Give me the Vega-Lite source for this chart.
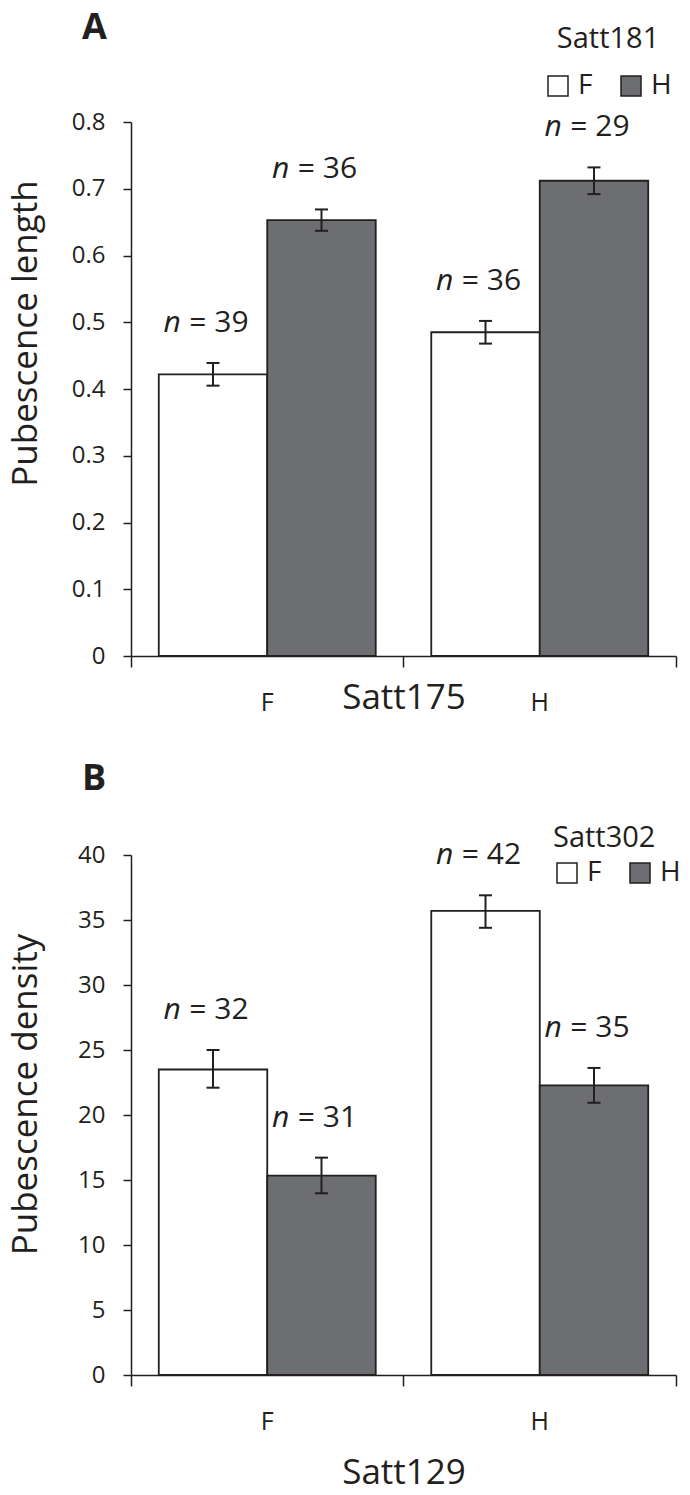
{
  "$schema": "https://vega.github.io/schema/vega-lite/v6.json",
  "autosize": {"type": "none"},
  "padding": {"left": 131, "top": 122, "right": 559, "bottom": 1373},
  "background": "white",
  "bounds": "flush",
  "spacing": 199,
  "resolve": {"scale": {"fill": "independent"}, "legend": {"fill": "independent"}},
  "config": {
    "font": "Open Sans",
    "view": {"stroke": null},
    "axis": {
      "domainColor": "#231f20", "domainWidth": 1.5,
      "tickColor": "#231f20", "tickWidth": 1.5,
      "labelColor": "#231f20", "titleColor": "#231f20",
      "labelFont": "Open Sans", "titleFont": "Open Sans",
      "grid": false, "titleFontWeight": "normal"
    },
    "legend": {
      "labelFont": "Open Sans", "titleFont": "Open Sans",
      "labelColor": "#231f20", "titleColor": "#231f20"
    }
  },
  "datasets": {
    "lengthData": [
      {"g": "F", "s": "F", "mean": 0.422, "lo": 0.405, "hi": 0.439, "label": "= 39"},
      {"g": "F", "s": "H", "mean": 0.653, "lo": 0.637, "hi": 0.669, "label": "= 36"},
      {"g": "H", "s": "F", "mean": 0.485, "lo": 0.468, "hi": 0.502, "label": "= 36"},
      {"g": "H", "s": "H", "mean": 0.712, "lo": 0.692, "hi": 0.732, "label": "= 29"}
    ],
    "densityData": [
      {"g": "F", "s": "F", "mean": 23.5, "lo": 22.1, "hi": 25.0, "label": "= 32"},
      {"g": "F", "s": "H", "mean": 15.33, "lo": 13.98, "hi": 16.72, "label": "= 31"},
      {"g": "H", "s": "F", "mean": 35.7, "lo": 34.4, "hi": 36.9, "label": "= 42"},
      {"g": "H", "s": "H", "mean": 22.28, "lo": 20.94, "hi": 23.62, "label": "= 35"}
    ]
  },
  "vconcat": [
    {
      "title": {"text": "A", "anchor": "start", "frame": "group", "dx": -49, "dy": 50, "offset": 0, "fontSize": 36, "fontWeight": "bold", "color": "#231f20", "baseline": "alphabetic", "font": "Open Sans"},
      "width": 545,
      "height": 534,
      "data": {"name": "lengthData"},
      "encoding": {
        "x": {
          "field": "g", "type": "nominal",
          "scale": {"domain": ["F", "H"], "paddingInner": 0, "paddingOuter": 0},
          "axis": {
            "title": "Satt175", "labelAngle": 0, "labelFontSize": 25, "labelBaseline": "middle",
            "labelPadding": 35, "tickSize": 11, "bandPosition": 1, "tickExtra": true,
            "titleFontSize": 35, "titleY": 41, "titleBaseline": "middle"
          }
        },
        "xOffset": {"field": "s", "type": "nominal", "scale": {"domain": ["F", "H"], "paddingInner": 0, "paddingOuter": 0.256}}
      },
      "layer": [
        {
          "mark": {"type": "bar", "stroke": "#231f20", "strokeWidth": 1.8},
          "encoding": {
            "y": {
              "field": "mean", "type": "quantitative",
              "scale": {"domain": [0, 0.8], "nice": false},
              "axis": {
                "title": "Pubescence length",
                "values": [0, 0.1, 0.2, 0.3, 0.4, 0.5, 0.6, 0.7, 0.8], "format": "~g",
                "tickSize": 8, "labelPadding": 18, "labelFontSize": 24, "labelBaseline": "middle",
                "titleFontSize": 35, "titleX": -95, "titleY": 211, "titleAngle": -90,
                "titleBaseline": "alphabetic", "titleAlign": "center"
              }
            },
            "fill": {
              "field": "s", "type": "nominal",
              "scale": {"domain": ["F", "H"], "range": ["#ffffff", "#6d6e71"]},
              "legend": {
                "title": "Satt181", "orient": "none", "legendX": 413, "legendY": -97,
                "direction": "horizontal", "symbolType": "square", "symbolSize": 400,
                "symbolStrokeColor": "#231f20", "symbolStrokeWidth": 1.5, "symbolOpacity": 1,
                "labelFontSize": 28, "titleFontSize": 29, "titleFontWeight": "normal",
                "titleAnchor": "middle", "titlePadding": 18, "labelOffset": 6, "columnPadding": 24,
                "padding": 0, "titleBaseline": "top", "labelBaseline": "middle"
              }
            }
          }
        },
        {
          "mark": {"type": "rule", "color": "#231f20", "strokeWidth": 2},
          "encoding": {
            "y": {"field": "lo", "type": "quantitative"},
            "y2": {"field": "hi"}
          }
        },
        {
          "mark": {"type": "tick", "orient": "horizontal", "size": 13, "thickness": 2, "color": "#231f20", "opacity": 1},
          "encoding": {"y": {"field": "hi", "type": "quantitative"}}
        },
        {
          "mark": {"type": "tick", "orient": "horizontal", "size": 13, "thickness": 2, "color": "#231f20", "opacity": 1},
          "encoding": {"y": {"field": "lo", "type": "quantitative"}}
        },
        {
          "mark": {"type": "text", "align": "left", "baseline": "middle", "dx": -49.5, "dy": -40, "fontSize": 30, "fontStyle": "italic", "color": "#231f20", "font": "Open Sans"},
          "encoding": {"y": {"field": "hi", "type": "quantitative"}, "text": {"value": "n"}}
        },
        {
          "mark": {"type": "text", "align": "left", "baseline": "middle", "dx": -23.7, "dy": -40, "fontSize": 30, "color": "#231f20", "font": "Open Sans"},
          "encoding": {"y": {"field": "hi", "type": "quantitative"}, "text": {"field": "label"}}
        }
      ]
    },
    {
      "title": {"text": "B", "anchor": "start", "frame": "group", "dx": -49, "dy": 2, "offset": 0, "fontSize": 36, "fontWeight": "bold", "color": "#231f20", "baseline": "alphabetic", "font": "Open Sans"},
      "width": 545,
      "height": 520,
      "data": {"name": "densityData"},
      "encoding": {
        "x": {
          "field": "g", "type": "nominal",
          "scale": {"domain": ["F", "H"], "paddingInner": 0, "paddingOuter": 0},
          "axis": {
            "title": "Satt129", "labelAngle": 0, "labelFontSize": 25, "labelBaseline": "middle",
            "labelPadding": 35, "tickSize": 11, "bandPosition": 1, "tickExtra": true,
            "titleFontSize": 35, "titleY": 97.5, "titleBaseline": "middle"
          }
        },
        "xOffset": {"field": "s", "type": "nominal", "scale": {"domain": ["F", "H"], "paddingInner": 0, "paddingOuter": 0.256}}
      },
      "layer": [
        {
          "mark": {"type": "bar", "stroke": "#231f20", "strokeWidth": 1.8},
          "encoding": {
            "y": {
              "field": "mean", "type": "quantitative",
              "scale": {"domain": [0, 40], "nice": false},
              "axis": {
                "title": "Pubescence density",
                "values": [0, 5, 10, 15, 20, 25, 30, 35, 40], "format": "~g",
                "tickSize": 8, "labelPadding": 18, "labelFontSize": 24, "labelBaseline": "middle",
                "titleFontSize": 35, "titleX": -95, "titleY": 239, "titleAngle": -90,
                "titleBaseline": "alphabetic", "titleAlign": "center"
              }
            },
            "fill": {
              "field": "s", "type": "nominal",
              "scale": {"domain": ["F", "H"], "range": ["#ffffff", "#6d6e71"]},
              "legend": {
                "title": "Satt302", "orient": "none", "legendX": 422, "legendY": -31,
                "direction": "horizontal", "symbolType": "square", "symbolSize": 400,
                "symbolStrokeColor": "#231f20", "symbolStrokeWidth": 1.5, "symbolOpacity": 1,
                "labelFontSize": 28, "titleFontSize": 29, "titleFontWeight": "normal",
                "titleAnchor": "start", "titlePadding": 6, "labelOffset": 6, "columnPadding": 24,
                "padding": 0, "titleBaseline": "top", "labelBaseline": "middle"
              }
            }
          }
        },
        {
          "mark": {"type": "rule", "color": "#231f20", "strokeWidth": 2},
          "encoding": {
            "y": {"field": "lo", "type": "quantitative"},
            "y2": {"field": "hi"}
          }
        },
        {
          "mark": {"type": "tick", "orient": "horizontal", "size": 13, "thickness": 2, "color": "#231f20", "opacity": 1},
          "encoding": {"y": {"field": "hi", "type": "quantitative"}}
        },
        {
          "mark": {"type": "tick", "orient": "horizontal", "size": 13, "thickness": 2, "color": "#231f20", "opacity": 1},
          "encoding": {"y": {"field": "lo", "type": "quantitative"}}
        },
        {
          "mark": {"type": "text", "align": "left", "baseline": "middle", "dx": -49.5, "dy": -40, "fontSize": 30, "fontStyle": "italic", "color": "#231f20", "font": "Open Sans"},
          "encoding": {"y": {"field": "hi", "type": "quantitative"}, "text": {"value": "n"}}
        },
        {
          "mark": {"type": "text", "align": "left", "baseline": "middle", "dx": -23.7, "dy": -40, "fontSize": 30, "color": "#231f20", "font": "Open Sans"},
          "encoding": {"y": {"field": "hi", "type": "quantitative"}, "text": {"field": "label"}}
        }
      ]
    }
  ]
}
